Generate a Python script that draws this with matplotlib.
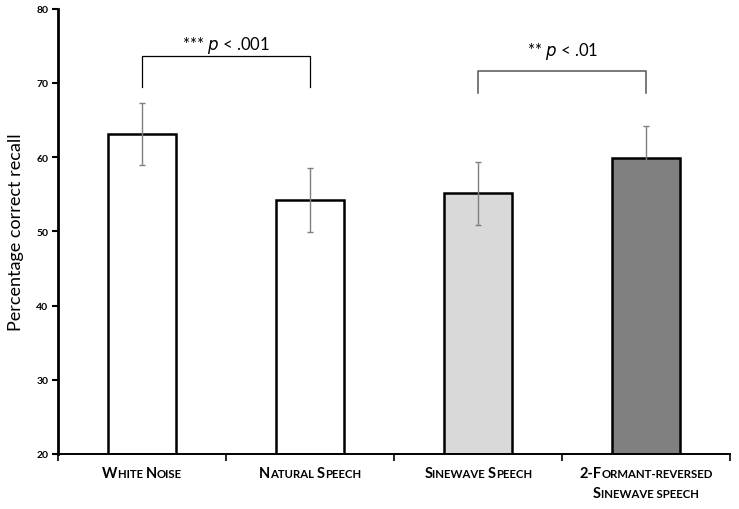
import numpy as np
import matplotlib.pyplot as plt
from matplotlib.offsetbox import TextArea, HPacker, VPacker, AnnotationBbox

plt.rcParams['font.family'] = ['Lato', 'DejaVu Sans']

# data
conditions = ['White Noise', 'Natural Speech', 'Sinewave Speech', '2-Formant-reversed Sinewave speech']
means = [63.1, 54.2, 55.1, 59.9]
errors = [4.2, 4.35, 4.3, 4.35]
bar_colors = ['white', 'white', '#d9d9d9', '#808080']

# small caps labels: (text, big?) pieces per line
label_parts = [
    [[('W', True), ('HITE ', False), ('N', True), ('OISE', False)]],
    [[('N', True), ('ATURAL ', False), ('S', True), ('PEECH', False)]],
    [[('S', True), ('INEWAVE ', False), ('S', True), ('PEECH', False)]],
    [[('2-F', True), ('ORMANT-REVERSED', False)],
     [('S', True), ('INEWAVE SPEECH', False)]],
]

fig = plt.figure(figsize=(7.39, 5.10), dpi=100)
ax = fig.add_axes([0.0785, 0.108, 0.9095, 0.873])

x = np.arange(len(means))
ax.bar(x, np.array(means) - 20, bottom=20, width=0.405, color=bar_colors,
       edgecolor='black', linewidth=1.8, zorder=2)
ax.errorbar(x, means, yerr=errors, fmt='none', ecolor='#7f7f7f',
            elinewidth=1.0, capsize=2.5, capthick=1.0, zorder=3)

ax.set_xlim(-0.5, 3.5)
ax.set_ylim(20, 80)
ax.set_yticks(range(20, 81, 10))
ax.set_xticks(np.arange(-0.5, 3.6, 1))
ax.set_xticklabels([])
ax.tick_params(axis='y', direction='out', length=4, width=1.5, labelsize=7.5, pad=3)
ax.tick_params(axis='x', direction='out', length=5, width=1.2)
for lab in ax.get_yticklabels():
    lab.set_fontweight('bold')
ax.spines['top'].set_visible(False)
ax.spines['right'].set_visible(False)
ax.spines['left'].set_linewidth(2)
ax.spines['bottom'].set_linewidth(1.4)
ax.set_ylabel('Percentage correct recall', fontsize=13, labelpad=9)

# category labels in small caps
for i, lines in enumerate(label_parts):
    rows = []
    for line in lines:
        pieces = [TextArea(t, textprops=dict(fontsize=10.5 if big else 8.2,
                                             fontweight='bold'))
                  for t, big in line]
        rows.append(HPacker(children=pieces, align='baseline', pad=0, sep=0))
    box = VPacker(children=rows, align='center', pad=0, sep=4)
    ab = AnnotationBbox(box, (x[i], -0.028), xycoords=('data', 'axes fraction'),
                        box_alignment=(0.5, 1), frameon=False, annotation_clip=False)
    ax.add_artist(ab)

# significance brackets
ax.plot([0, 0, 1, 1], [69.4, 73.6, 73.6, 69.4], color='black', lw=0.9)
ax.text(0.5, 73.8, r'*** $\it{p}$ < .001', ha='center', va='bottom', fontsize=12)
ax.plot([2, 2, 3, 3], [68.6, 71.6, 71.6, 68.6], color='#555555', lw=1.1)
ax.text(2.5, 72.9, r'** $\it{p}$ < .01', ha='center', va='bottom', fontsize=12)

fig.savefig('out.png', dpi=100)
